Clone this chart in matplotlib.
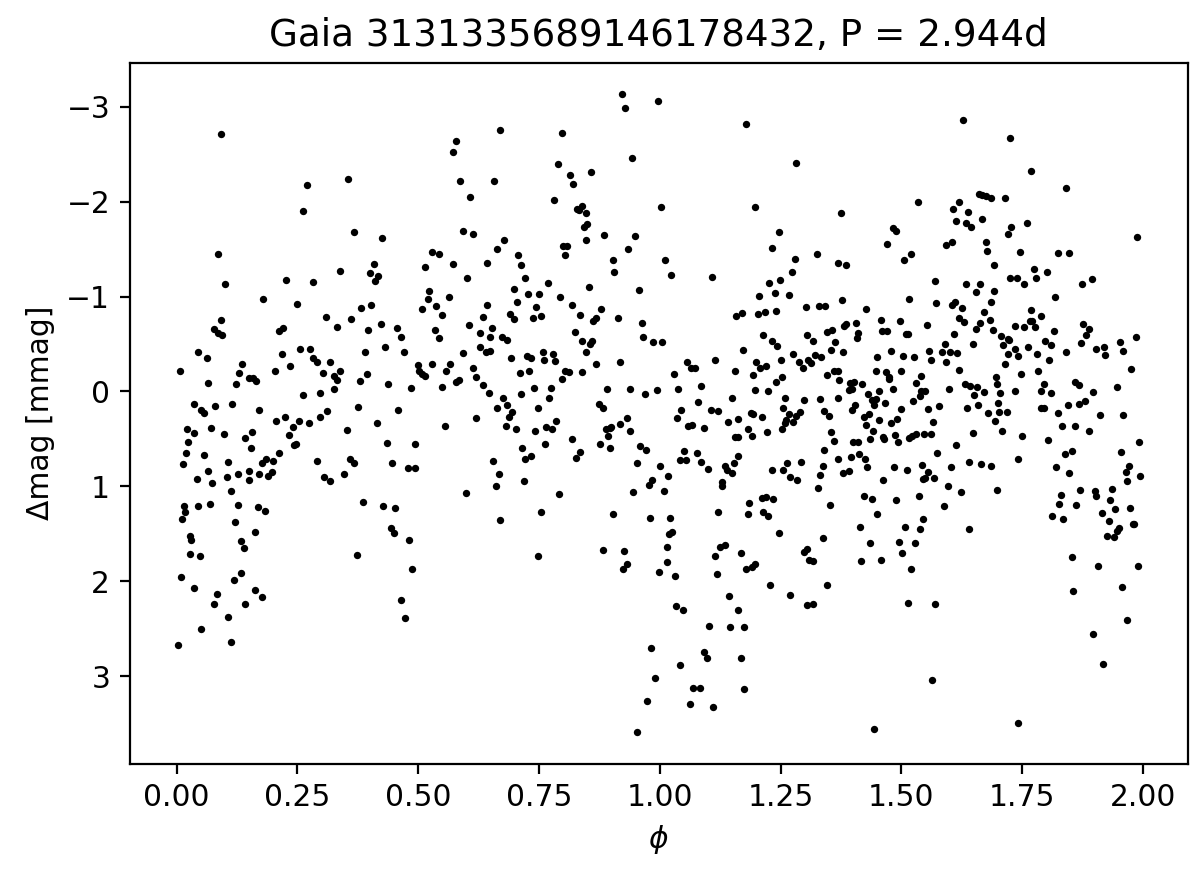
import numpy as np
import matplotlib
matplotlib.use("Agg")
import matplotlib.pyplot as plt

# (phase, delta mag), left to right
pts_a = [(0.091,-2.71),(0.262,-1.90),(0.086,-1.45),(0.100,-1.13),(0.226,-1.17),(0.178,-0.97),(0.248,-0.92),
         (0.091,-0.75),(0.077,-0.66),(0.086,-0.62),(0.093,-0.59),(0.211,-0.64),(0.220,-0.67),(0.255,-0.45),
         (0.044,-0.42),(0.063,-0.35),(0.006,-0.21),(0.065,-0.09),(0.135,-0.29),(0.129,-0.19),(0.122,-0.08),
         (0.150,-0.14),(0.158,-0.14),(0.165,-0.11),(0.204,-0.21),(0.218,-0.39),(0.234,-0.27),(0.261,0.04),
         (0.036,0.13),(0.050,0.20),(0.056,0.23),(0.079,0.15),(0.114,0.13),(0.171,0.20),(0.021,0.40),
         (0.035,0.44),(0.024,0.53),(0.019,0.65),(0.013,0.77),(0.057,0.67),(0.071,0.39),(0.097,0.45),
         (0.142,0.49),(0.156,0.43),(0.154,0.60),(0.205,0.31),(0.225,0.27),(0.240,0.38),(0.254,0.31),
         (0.232,0.46),(0.242,0.56),(0.247,0.55),(0.212,0.65),(0.185,0.71),(0.177,0.76),(0.199,0.73),
         (0.197,0.85),(0.189,0.89),(0.170,0.87),(0.149,0.84),(0.149,0.93),(0.127,0.87),(0.107,0.74),
         (0.105,0.90),(0.064,0.84),(0.072,0.97),(0.042,0.92),(0.113,1.05),(0.126,1.20),(0.120,1.38),
         (0.169,1.22),(0.183,1.26),(0.162,1.48),(0.134,1.58),(0.140,1.65),(0.133,1.91),(0.119,1.99),
         (0.069,1.19),(0.043,1.21),(0.015,1.21),(0.017,1.27),(0.010,1.34),(0.028,1.52),(0.030,1.57),
         (0.028,1.71),(0.048,1.73),(0.008,1.96),(0.035,2.07),(0.084,2.14),(0.077,2.24),(0.106,2.38),
         (0.050,2.50),(0.002,2.67),(0.112,2.64),(0.142,2.24),(0.162,2.09),(0.176,2.17)]

pts_b = [(0.270,-2.18),(0.354,-2.24),(0.367,-1.68),(0.424,-1.62),(0.283,-1.15),(0.339,-1.27),(0.400,-1.25),
         (0.408,-1.34),(0.417,-1.22),(0.411,-1.16),(0.310,-0.78),(0.332,-0.68),(0.361,-0.76),(0.382,-0.88),
         (0.403,-0.91),(0.396,-0.65),(0.422,-0.71),(0.457,-0.67),(0.464,-0.57),(0.471,-0.42),(0.431,-0.47),
         (0.389,-0.41),(0.276,-0.45),(0.282,-0.35),(0.290,-0.31),(0.318,-0.31),(0.303,-0.19),(0.325,-0.16),
         (0.332,-0.12),(0.338,-0.21),(0.326,-0.02),(0.297,0.02),(0.379,-0.11),(0.393,-0.18),(0.438,-0.08),
         (0.485,-0.04),(0.375,0.16),(0.311,0.21),(0.297,0.27),(0.274,0.33),(0.352,0.41),(0.415,0.33),
         (0.458,0.20),(0.436,0.54),(0.494,0.55),(0.445,0.76),(0.478,0.81),(0.494,0.81),(0.290,0.73),
         (0.304,0.90),(0.317,0.94),(0.346,0.87),(0.359,0.71),(0.366,0.76),(0.386,1.17),(0.428,1.21),
         (0.451,1.23),(0.443,1.44),(0.450,1.49),(0.480,1.57),(0.373,1.72),(0.487,1.87),(0.465,2.20),
         (0.473,2.39),(0.579,-2.64),(0.572,-2.52),(0.586,-2.22),(0.607,-2.05),(0.593,-1.69),(0.614,-1.66),
         (0.529,-1.47),(0.543,-1.45),(0.513,-1.31),(0.571,-1.34),(0.600,-1.20),(0.522,-1.06),(0.521,-0.97),
         (0.508,-0.87),(0.537,-0.90),(0.563,-0.99),(0.550,-0.80),(0.635,-0.78),(0.535,-0.65),(0.543,-0.56),
         (0.606,-0.70),(0.628,-0.62),(0.627,-0.47),(0.592,-0.40),(0.500,-0.28),(0.502,-0.22),(0.507,-0.18),
         (0.515,-0.16),(0.528,-0.29),(0.565,-0.29),(0.557,-0.22),(0.549,-0.05),(0.578,-0.10),(0.584,-0.12),
         (0.613,-0.25),(0.620,-0.15),(0.634,-0.07),(0.556,0.36),(0.620,0.28),(0.599,1.07)]

pts_c = [(0.921,-3.13),(0.928,-2.99),(0.996,-3.06),(0.670,-2.76),(0.797,-2.72),(0.657,-2.22),(0.942,-2.46),
         (0.790,-2.40),(0.814,-2.28),(0.821,-2.19),(0.857,-2.31),(0.782,-2.02),(0.829,-1.92),(0.833,-1.91),
         (0.840,-1.95),(0.847,-1.88),(0.843,-1.73),(0.849,-1.76),(0.847,-1.60),(0.885,-1.65),(0.949,-1.64),
         (0.934,-1.50),(1.003,-1.94),(1.010,-1.38),(0.678,-1.60),(0.663,-1.50),(0.642,-1.35),(0.800,-1.53),
         (0.807,-1.53),(0.804,-1.44),(0.904,-1.38),(0.906,-1.26),(0.706,-1.44),(0.713,-1.33),(0.720,-1.19),
         (0.698,-1.08),(0.727,-1.03),(0.751,-1.03),(0.768,-1.14),(0.705,-0.94),(0.690,-0.82),(0.699,-0.76),
         (0.642,-0.91),(0.744,-0.89),(0.737,-0.77),(0.754,-0.79),(0.793,-0.99),(0.818,-0.91),(0.835,-0.80),
         (0.853,-1.10),(0.878,-0.87),(0.868,-0.77),(0.862,-0.74),(0.956,-1.07),(0.913,-0.77),(0.963,-0.72),
         (0.965,-0.57),(0.987,-0.52),(1.005,-0.52),(0.653,-0.67),(0.648,-0.57),(0.649,-0.43),(0.641,-0.42),
         (0.674,-0.57),(0.684,-0.54),(0.825,-0.63),(0.839,-0.53),(0.855,-0.50),(0.860,-0.53),(0.847,-0.41),
         (0.869,-0.29),(0.918,-0.31),(0.692,-0.35),(0.725,-0.37),(0.733,-0.35),(0.710,-0.19),(0.730,-0.21),
         (0.758,-0.41),(0.761,-0.33),(0.779,-0.39),(0.784,-0.32),(0.804,-0.22),(0.813,-0.20),(0.798,-0.13),
         (0.840,-0.20),(0.646,0.02),(0.740,-0.04),(0.775,-0.04),(0.712,0.03),(0.771,0.07),(0.748,0.18),
         (0.676,0.07),(0.684,0.14),(0.663,0.17),(0.695,0.22),(0.688,0.27),(0.681,0.37),(0.702,0.40),
         (0.741,0.42),(0.764,0.38),(0.777,0.40),(0.786,0.31),(0.762,0.55),(0.715,0.60),(0.722,0.71),
         (0.734,0.68),(0.719,0.94),(0.655,0.73),(0.667,0.87),(0.660,1.00),(0.669,1.36),(0.755,1.27),
         (0.791,1.08),(0.748,1.73),(0.819,0.50),(0.826,0.70),(0.834,0.64),(0.890,-0.02),(0.874,0.13),
         (0.882,0.18),(0.938,-0.02),(0.970,0.03),(0.994,-0.01),(0.888,0.40),(0.892,0.47),(0.897,0.39),
         (0.900,0.38),(0.876,0.55),(0.897,0.60),(0.917,0.34),(0.932,0.28),(0.939,0.42),(0.959,0.58),
         (0.972,0.62),(0.952,0.75),(0.945,1.06),(0.903,1.29),(1.001,0.79),(0.984,0.93),(0.977,0.99),
         (1.008,1.05),(0.979,1.33),(0.882,1.67),(0.926,1.68),(0.932,1.82),(0.924,1.87),(0.998,1.90),
         (0.981,2.70),(0.991,3.02),(0.974,3.26),(0.953,3.59)]

pts_d = [(1.178,-2.82),(1.283,-2.41),(1.198,-1.94),(1.375,-1.88),(1.246,-1.68),(1.232,-1.51),(1.024,-1.23),
         (1.109,-1.21),(1.281,-1.40),(1.274,-1.26),(1.325,-1.45),(1.369,-1.35),(1.227,-1.14),(1.248,-1.17),
         (1.238,-1.04),(1.267,-1.02),(1.206,-1.01),(1.158,-0.79),(1.171,-0.83),(1.204,-0.82),(1.218,-0.84),
         (1.241,-0.85),(1.303,-0.89),(1.329,-0.90),(1.343,-0.90),(1.377,-0.96),(1.213,-0.59),(1.233,-0.53),
         (1.242,-0.48),(1.172,-0.44),(1.250,-0.33),(1.275,-0.39),(1.288,-0.31),(1.296,-0.25),(1.305,-0.59),
         (1.318,-0.53),(1.307,-0.33),(1.314,-0.30),(1.322,-0.38),(1.333,-0.36),(1.347,-0.63),(1.356,-0.65),
         (1.363,-0.52),(1.354,-0.44),(1.379,-0.41),(1.382,-0.69),(1.200,-0.31),(1.208,-0.25),(1.220,-0.27),
         (1.156,-0.21),(1.114,-0.33),(1.057,-0.31),(1.065,-0.25),(1.072,-0.25),(1.029,-0.18),(1.085,-0.06),
         (1.079,0.11),(1.038,-0.03),(1.043,0.20),(1.036,0.28),(1.059,0.37),(1.066,0.35),(1.092,0.39),
         (1.106,0.20),(1.121,0.21),(1.149,0.07),(1.142,0.32),(1.163,0.29),(1.155,0.48),(1.163,0.48),
         (1.193,-0.17),(1.197,-0.01),(1.225,0.00),(1.188,0.23),(1.192,0.24),(1.182,0.40),(1.191,0.47),
         (1.211,0.27),(1.221,0.43),(1.241,-0.10),(1.254,-0.15),(1.260,0.07),(1.255,0.18),(1.267,0.24),
         (1.262,0.30),(1.260,0.33),(1.253,0.40),(1.276,0.32),(1.283,0.26),(1.290,0.22),(1.298,0.09),
         (1.332,0.08),(1.340,0.21),(1.351,0.26),(1.368,0.07),(1.347,-0.17),(1.361,-0.22),(1.368,-0.21),
         (1.372,-0.12),(1.355,0.43),(1.361,0.52),(1.368,0.71),(1.380,0.86),(1.341,0.62),(1.337,0.79),
         (1.332,0.88),(1.327,1.02),(1.352,1.20),(1.338,1.55),(1.346,2.04),(1.292,0.74),(1.264,0.75),
         (1.256,0.83),(1.269,0.90),(1.284,0.93),(1.233,0.83),(1.211,1.12),(1.219,1.11),(1.235,1.13),
         (1.213,1.27),(1.225,1.31),(1.247,1.49),(1.184,1.18),(1.183,1.29),(1.169,1.70),(1.178,1.87),
         (1.190,1.85),(1.197,1.82),(1.228,2.04),(1.270,2.15),(1.299,1.69),(1.305,1.66),(1.309,1.78),
         (1.317,1.79),(1.304,2.25),(1.318,2.24),(1.017,0.89),(1.022,1.33),(1.019,1.50),(1.026,1.48),
         (1.015,1.64),(1.014,1.80),(1.031,1.95),(1.033,2.26),(1.048,2.30),(1.041,2.88),(1.042,0.72),
         (1.051,0.63),(1.055,0.72),(1.077,0.65),(1.086,0.74),(1.100,0.82),(1.135,0.79),(1.139,0.83),
         (1.150,0.86),(1.153,0.75),(1.161,0.68),(1.128,0.96),(1.129,1.00),(1.121,1.27),(1.115,1.73),
         (1.124,1.64),(1.135,1.62),(1.119,1.93),(1.144,2.16),(1.161,2.30),(1.101,2.47),(1.146,2.48),
         (1.175,2.48),(1.091,2.75),(1.097,2.81),(1.168,2.81),(1.069,3.13),(1.083,3.13),(1.174,3.14),
         (1.062,3.30),(1.111,3.33)]

pts_e = [(1.628,-2.86),(1.725,-2.67),(1.534,-2.00),(1.620,-2.00),(1.607,-1.92),(1.638,-1.89),(1.613,-1.80),
         (1.633,-1.77),(1.644,-1.73),(1.661,-2.08),(1.668,-2.07),(1.676,-2.06),(1.685,-2.04),(1.714,-2.04),
         (1.668,-1.82),(1.728,-1.73),(1.721,-1.66),(1.746,-1.47),(1.482,-1.72),(1.489,-1.69),(1.471,-1.55),
         (1.593,-1.54),(1.606,-1.57),(1.676,-1.57),(1.678,-1.48),(1.506,-1.38),(1.520,-1.45),(1.386,-1.33),
         (1.691,-1.33),(1.726,-1.20),(1.739,-1.19),(1.755,-1.13),(1.570,-1.16),(1.633,-1.13),(1.663,-1.13),
         (1.654,-1.05),(1.692,-1.06),(1.686,-0.94),(1.517,-0.97),(1.571,-0.93),(1.605,-0.91),(1.612,-0.94),
         (1.626,-0.88),(1.620,-0.77),(1.629,-0.73),(1.672,-0.84),(1.683,-0.75),(1.663,-0.72),(1.655,-0.66),
         (1.690,-0.65),(1.426,-0.87),(1.386,-0.71),(1.407,-0.72),(1.410,-0.62),(1.408,-0.56),(1.457,-0.75),
         (1.460,-0.64),(1.471,-0.64),(1.497,-0.74),(1.509,-0.61),(1.513,-0.60),(1.553,-0.70),(1.478,-0.43),
         (1.449,-0.36),(1.503,-0.37),(1.527,-0.36),(1.557,-0.43),(1.562,-0.33),(1.584,-0.42),(1.591,-0.50),
         (1.592,-0.31),(1.600,-0.41),(1.609,-0.60),(1.616,-0.40),(1.648,-0.50),(1.619,-0.23),(1.631,-0.08),
         (1.642,-0.06),(1.657,-0.05),(1.650,0.04),(1.671,0.01),(1.658,0.14),(1.636,0.17),(1.711,-0.49),
         (1.707,-0.58),(1.720,-0.55),(1.723,-0.54),(1.735,-0.45),(1.721,-0.39),(1.715,-0.29),(1.741,-0.37),
         (1.748,-0.18),(1.735,-0.69),(1.755,-0.68),(1.696,-0.15),(1.698,-0.08),(1.705,0.02),(1.700,0.12),
         (1.703,0.22),(1.718,0.22),(1.693,0.31),(1.680,0.23),(1.708,0.42),(1.736,0.00),(1.749,0.47),
         (1.742,0.71),(1.698,1.04),(1.686,0.79),(1.665,0.77),(1.641,0.74),(1.648,0.44),(1.614,0.57),
         (1.641,1.45),(1.623,1.06),(1.603,0.80),(1.596,1.00),(1.589,1.21),(1.574,0.65),(1.565,0.32),
         (1.579,0.15),(1.598,-0.03),(1.555,0.19),(1.548,0.45),(1.561,0.45),(1.541,0.00),(1.549,0.00),
         (1.539,0.05),(1.531,-0.09),(1.541,-0.16),(1.524,0.10),(1.499,0.19),(1.491,0.29),(1.479,0.33),
         (1.487,0.46),(1.494,0.53),(1.466,0.12),(1.482,-0.02),(1.499,-0.21),(1.474,-0.13),(1.475,-0.15),
         (1.468,-0.20),(1.447,-0.22),(1.453,0.00),(1.447,0.08),(1.444,0.14),(1.440,0.09),(1.433,0.24),
         (1.422,0.27),(1.428,0.35),(1.441,0.42),(1.435,0.50),(1.454,0.30),(1.463,0.48),(1.464,0.50),
         (1.517,0.49),(1.522,0.47),(1.530,0.45),(1.404,0.14),(1.397,0.20),(1.399,-0.02),(1.393,-0.09),
         (1.403,-0.10),(1.418,-0.08),(1.432,0.03),(1.392,-0.01),(1.400,0.53),(1.411,0.53),(1.413,0.66),
         (1.396,0.69),(1.425,0.71),(1.429,0.80),(1.392,0.84),(1.462,0.93),(1.484,0.80),(1.511,0.83),
         (1.543,0.78),(1.556,0.85),(1.545,0.92),(1.550,0.91),(1.567,0.91),(1.422,1.10),(1.439,1.13),
         (1.450,1.29),(1.489,1.14),(1.536,1.10),(1.545,1.35),(1.539,1.45),(1.507,1.43),(1.495,1.59),
         (1.502,1.70),(1.529,1.60),(1.521,1.87),(1.415,1.43),(1.436,1.60),(1.417,1.79),(1.457,1.78),
         (1.514,2.23),(1.570,2.24),(1.564,3.04),(1.444,3.56),(1.742,3.50)]

pts_f = [(1.768,-2.32),(1.840,-2.14),(1.761,-1.77),(1.987,-1.63),(1.825,-1.46),(1.847,-1.46),(1.775,-1.29),
         (1.802,-1.26),(1.778,-1.20),(1.875,-1.13),(1.895,-1.18),(1.818,-0.99),(1.769,-0.86),(1.789,-0.79),
         (1.767,-0.74),(1.771,-0.74),(1.776,-0.68),(1.817,-0.64),(1.876,-0.71),(1.889,-0.66),(1.883,-0.59),
         (1.873,-0.51),(1.986,-0.57),(1.953,-0.52),(1.959,-0.43),(1.904,-0.45),(1.919,-0.47),(1.922,-0.38),
         (1.762,-0.47),(1.798,-0.53),(1.810,-0.49),(1.782,-0.39),(1.805,-0.33),(1.841,-0.41),(1.783,-0.22),
         (1.975,-0.24),(1.796,-0.08),(1.789,0.00),(1.811,0.02),(1.860,-0.10),(1.867,-0.07),(1.947,-0.05),
         (1.897,0.01),(1.881,0.10),(1.868,0.13),(1.845,0.14),(1.790,0.18),(1.796,0.18),(1.824,0.23),
         (1.833,0.36),(1.860,0.37),(1.888,0.42),(1.911,0.25),(1.960,0.25),(1.804,0.51),(1.993,0.53),
         (1.839,0.66),(1.854,0.63),(1.954,0.64),(1.820,0.80),(1.848,0.86),(1.972,0.79),(1.965,0.85),
         (1.968,0.94),(1.994,0.89),(1.869,1.04),(1.901,1.05),(1.903,1.10),(1.937,1.03),(1.831,1.09),
         (1.826,1.19),(1.862,1.20),(1.813,1.31),(1.834,1.34),(1.932,1.15),(1.916,1.28),(1.943,1.24),
         (1.973,1.23),(1.930,1.37),(1.979,1.40),(1.982,1.40),(1.951,1.44),(1.947,1.47),(1.925,1.52),
         (1.940,1.54),(1.853,1.75),(1.908,1.84),(1.990,1.84),(1.855,2.10),(1.957,2.06),(1.967,2.41),
         (1.896,2.56),(1.917,2.87)]

pts = np.array(pts_a + pts_b + pts_c + pts_d + pts_e + pts_f)
phase = pts[:, 0]
dmag = pts[:, 1]

fig, ax = plt.subplots(figsize=(6, 4.345), dpi=200)
fig.subplots_adjust(left=0.108, right=0.99, top=0.928, bottom=0.121)

ax.scatter(phase, dmag, s=7, color='k', linewidths=0)
ax.invert_yaxis()

ax.set_xticks([0.0, 0.25, 0.5, 0.75, 1.0, 1.25, 1.5, 1.75, 2.0])
ax.tick_params(labelsize=10.7)
ax.set_xlabel(r'$\phi$', fontsize=10.7)
ax.set_ylabel('Δmag [mmag]', fontsize=10.7)
ax.set_title('Gaia 3131335689146178432, P = 2.944d', fontsize=13.4)

fig.savefig('out.png', dpi=200)
